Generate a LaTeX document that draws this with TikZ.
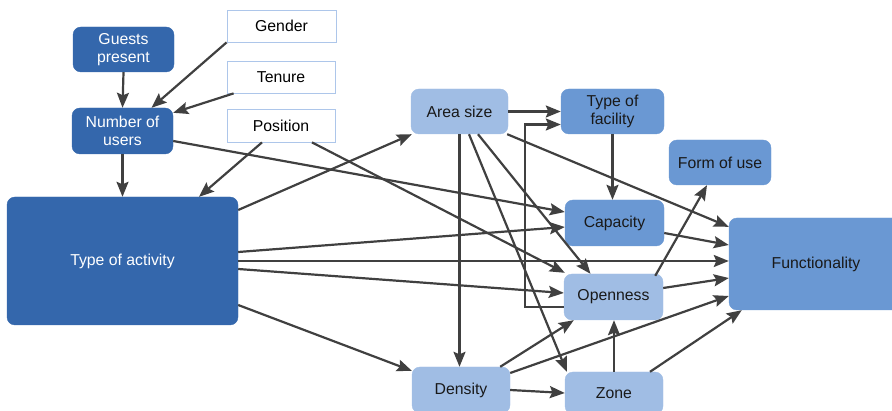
\documentclass[tikz,border=0pt]{standalone}
\usepackage{fontspec}
\setmainfont{Liberation Sans}
\usetikzlibrary{arrows.meta}
\definecolor{dkb}{HTML}{3467AC}
\definecolor{mdb}{HTML}{6A98D3}
\definecolor{ltb}{HTML}{A0BDE4}
\definecolor{wbd}{HTML}{ADC6EA}
\definecolor{edgec}{HTML}{404040}
\begin{document}
\begin{tikzpicture}[x=1pt,y=-1pt,
  box/.style={rounded corners=8pt, inner sep=0pt, align=center, font=\fontsize{15.8}{18.5}\selectfont},
  dark/.style={box, fill=dkb, draw=dkb, text=white},
  mid/.style={box, fill=mdb, draw=mdb, text=black!90},
  light/.style={box, fill=ltb, draw=ltb, text=black!90},
  plain/.style={box, rounded corners=0pt, fill=white, draw=wbd, line width=0.8pt, text=black},
  conn/.style={draw=edgec, line width=2.2pt, -{Stealth[length=15pt,width=12pt,inset=2.5pt]}}
]
\useasboundingbox (0,0) rectangle (892,411);
% nodes
\node[dark, minimum width=101pt, minimum height=45pt] (guests) at (123.5,49.5) {Guests\\present};
\node[dark, minimum width=101pt, minimum height=46pt] (users) at (122.5,131) {Number of\\users};
\node[plain, minimum width=109pt, minimum height=32pt] (gender) at (281.5,26) {Gender};
\node[plain, minimum width=108pt, minimum height=32pt] (tenure) at (281,77) {Tenure};
\node[plain, minimum width=108pt, minimum height=33pt] (position) at (281,125.5) {Position};
\node[dark, minimum width=231pt, minimum height=128pt] (activity) at (122.5,261) {Type of activity};
\node[light, minimum width=97pt, minimum height=45pt] (area) at (459.5,111.5) {Area size};
\node[mid, minimum width=103pt, minimum height=45pt] (facility) at (612.5,111.5) {Type of\\facility};
\node[mid, minimum width=102pt, minimum height=45pt] (formuse) at (720,162.5) {Form of use};
\node[mid, minimum width=99pt, minimum height=46pt] (capacity) at (614.5,223) {Capacity};
\node[mid, minimum width=174pt, minimum height=92pt] (function) at (816,264) {Functionality};
\node[light, minimum width=99pt, minimum height=46pt] (openness) at (613.5,297) {Openness};
\node[light, minimum width=98pt, minimum height=46pt] (density) at (461,390) {Density};
\node[light, minimum width=98pt, minimum height=42pt] (zone) at (614,393) {Zone};
% connectors
\draw[conn] (guests.south) -- (users.north);
\draw[conn] (gender.south west) -- ([xshift=29pt]users.north);
\draw[conn] ([xshift=7pt]tenure.south west) -- ([yshift=-5pt]users.north east);
\draw[conn] (users.south) -- (activity.north);
\draw[conn] ([xshift=-19pt]position.south) -- ([xshift=76.5pt]activity.north);
\draw[conn] ([yshift=-10pt]users.east) -- ([yshift=11pt]capacity.west);
\draw[conn] ([xshift=31pt]position.south) -- ([xshift=1pt,yshift=1pt]openness.north west);
\draw[conn] ([yshift=51pt]activity.east) -- ([xshift=1pt]area.south west);
\draw[conn] ([yshift=9pt]activity.east) -- ([yshift=-4pt]capacity.west);
\draw[conn] (activity.east) -- (function.west |- activity.east);
\draw[conn] ([yshift=-8pt]activity.east) -- ([yshift=4pt]openness.west);
\draw[conn] ([yshift=-44pt]activity.east) -- ([yshift=-4pt]density.north west);
\draw[conn] (area.east) -- (facility.west);
\draw[conn] ([xshift=-1pt]area.south east) -- ([yshift=-9pt]function.north west);
\draw[conn] (area.south) -- (area.south |- density.north);
\draw[conn] ([xshift=9.5pt]area.south) -- ([xshift=2pt]zone.north west);
\draw[conn] ([xshift=18.5pt]area.south) -- ([xshift=-23pt]openness.north);
\draw[conn] ([yshift=-10pt]openness.west) -- ++(-39,0) |- ([yshift=-13pt]facility.west);
\draw[conn] ([xshift=-8pt,yshift=-2pt]openness.north east) -- ([xshift=-13pt]formuse.south);
\draw[conn] ([yshift=9pt]openness.east) -- ([yshift=-14pt]function.west);
\draw[conn] ([yshift=-10pt]capacity.east) -- ([yshift=19pt]function.west);
\draw[conn] (facility.south) -- (facility.south |- capacity.north);
\draw[conn] ([xshift=-10pt]density.north east) -- ([xshift=10pt]openness.south west);
\draw[conn] ([yshift=17pt]density.east) -- ([yshift=-32pt]function.west);
\draw[conn] (density.east) -- (zone.west);
\draw[conn] (zone.north) -- (zone.north |- openness.south);
\draw[conn] ([xshift=36pt]zone.north) -- ([xshift=13pt]function.south west);
\end{tikzpicture}
\end{document}
